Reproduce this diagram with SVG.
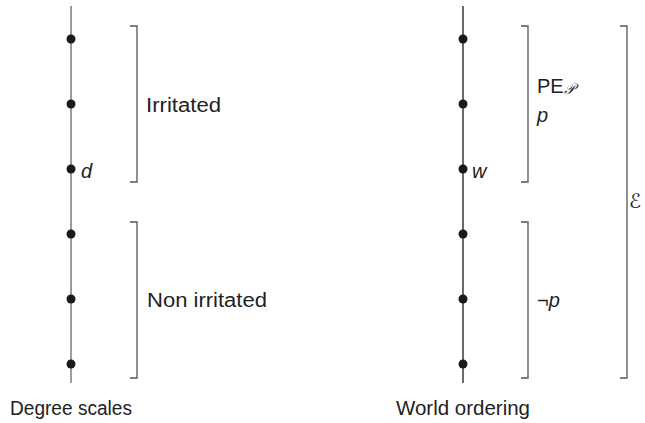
<svg xmlns="http://www.w3.org/2000/svg" width="645" height="423" viewBox="0 0 645 423">
<style>
.axisL{stroke:#7a7a7a;stroke-width:1.5;fill:none}
.axisR{stroke:#1a1a1a;stroke-width:1.3;fill:none}
.br{stroke:#555;stroke-width:1.3;fill:none}
.dot{fill:#1a1a1a}
.t{font-family:"Liberation Sans","DejaVu Sans",sans-serif;font-size:20px;fill:#222}
.i{font-style:italic}
</style>
<rect width="645" height="423" fill="#fff"/>
<g id="connectors">
<line class="axisL" x1="71" y1="6" x2="71" y2="383"/>
<line class="axisR" x1="463" y1="6" x2="463" y2="383"/>
</g>
<g id="left-scale">
<circle class="dot" cx="71" cy="39" r="4.5"/>
<circle class="dot" cx="71" cy="104" r="4.5"/>
<circle class="dot" cx="71" cy="169" r="4.5"/>
<circle class="dot" cx="71" cy="234" r="4.5"/>
<circle class="dot" cx="71" cy="299" r="4.5"/>
<circle class="dot" cx="71" cy="364" r="4.5"/>
<text class="t i" x="81" y="178" font-size="18">d</text>
</g>
<g id="irritated">
<path class="br" d="M130 26H137V182H130"/>
<text class="t" x="146" y="112" textLength="75" lengthAdjust="spacingAndGlyphs">Irritated</text>
</g>
<g id="non-irritated">
<path class="br" d="M130 222H137V378H130"/>
<text class="t" x="147" y="307" textLength="120" lengthAdjust="spacingAndGlyphs">Non irritated</text>
</g>
<g id="right-scale">
<circle class="dot" cx="463" cy="39" r="4.5"/>
<circle class="dot" cx="463" cy="104" r="4.5"/>
<circle class="dot" cx="463" cy="169" r="4.5"/>
<circle class="dot" cx="463" cy="234" r="4.5"/>
<circle class="dot" cx="463" cy="299" r="4.5"/>
<circle class="dot" cx="463" cy="364" r="4.5"/>
<text class="t i" x="472" y="178" font-size="18">w</text>
</g>
<g id="pe-p">
<path class="br" d="M521 26H528V182H521"/>
<text class="t" x="537" y="93">PE<tspan font-family="'DejaVu Serif',serif" font-style="italic" font-size="15" dy="1">𝒫</tspan></text>
<text class="t i" x="537" y="122">p</text>
</g>
<g id="not-p">
<path class="br" d="M521 222H528V378H521"/>
<text class="t" x="537" y="307">¬<tspan class="i">p</tspan></text>
</g>
<g id="E">
<path class="br" d="M620 26H627V378H620"/>
<text class="t i" x="629" y="208" font-size="21" font-family="'DejaVu Serif',serif">ℰ</text>
</g>
<g id="captions">
<text class="t" x="10" y="415" textLength="122" lengthAdjust="spacingAndGlyphs">Degree scales</text>
<text class="t" x="396" y="415" textLength="134" lengthAdjust="spacingAndGlyphs">World ordering</text>
</g>
</svg>
